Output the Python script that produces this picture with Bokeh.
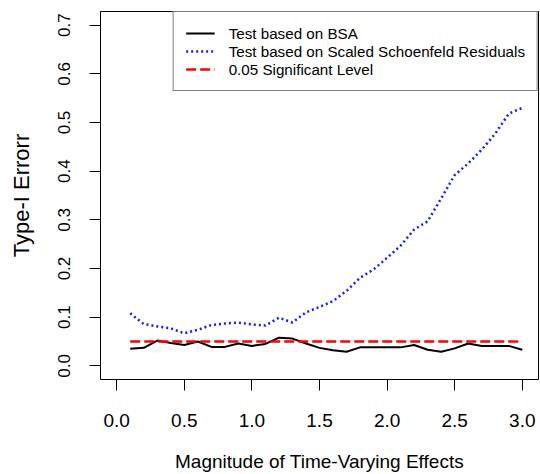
from bokeh.plotting import figure
from bokeh.models import Range1d, FixedTicker, PrintfTickFormatter, Legend, LegendItem, ColumnDataSource
from bokeh.embed import file_html
from bokeh.resources import INLINE

# ---- data ----
magnitude = [0.1, 0.2, 0.3, 0.4, 0.5, 0.6, 0.7, 0.8, 0.9, 1.0,
             1.1, 1.2, 1.3, 1.4, 1.5, 1.6, 1.7, 1.8, 1.9, 2.0,
             2.1, 2.2, 2.3, 2.4, 2.5, 2.6, 2.7, 2.8, 2.9, 3.0]
bsa = [0.035, 0.037, 0.052, 0.047, 0.043, 0.050, 0.039, 0.039, 0.046, 0.041,
       0.045, 0.058, 0.056, 0.046, 0.037, 0.032, 0.029, 0.038, 0.038, 0.038,
       0.038, 0.043, 0.033, 0.029, 0.036, 0.046, 0.041, 0.041, 0.041, 0.033]
schoenfeld = [0.108, 0.086, 0.081, 0.077, 0.067, 0.074, 0.084, 0.087, 0.089, 0.085,
              0.083, 0.099, 0.089, 0.110, 0.121, 0.133, 0.154, 0.181, 0.198, 0.222,
              0.247, 0.280, 0.297, 0.344, 0.392, 0.416, 0.444, 0.477, 0.518, 0.530]
sig_level = [0.05] * len(magnitude)

x_ticks = [0.0, 0.5, 1.0, 1.5, 2.0, 2.5, 3.0]
y_ticks = [0.0, 0.1, 0.2, 0.3, 0.4, 0.5, 0.6, 0.7]

legend_labels = ["Test based on BSA",
                 "Test based on Scaled Schoenfeld Residuals",
                 "0.05 Significant Level"]

FONT = "Liberation Sans"

src = ColumnDataSource(dict(x=magnitude, bsa=bsa, sch=schoenfeld, sig=sig_level))

p = figure(width=540, height=474, output_backend="svg", toolbar_location=None,
           x_range=Range1d(-0.12, 3.12), y_range=Range1d(-0.028, 0.728),
           min_border_left=100, min_border_right=2, min_border_top=11, min_border_bottom=93)

p.background_fill_color = "white"
p.border_fill_color = "white"
p.outline_line_color = "black"
p.outline_line_width = 1
p.xgrid.visible = False
p.ygrid.visible = False

r_bsa = p.line("x", "bsa", source=src, line_color="black", line_width=2)
r_sch = p.line("x", "sch", source=src, line_color="#1a1aff", line_width=2.5, line_dash="2 3")
r_sig = p.line("x", "sig", source=src, line_color="#ff0000", line_width=2.5, line_dash="10 4")

# axes
for ax in (p.xaxis[0], p.yaxis[0]):
    ax.axis_line_color = None
    ax.major_tick_line_color = "black"
    ax.major_tick_line_width = 1
    ax.major_tick_out = 11
    ax.major_tick_in = 0
    ax.minor_tick_line_color = None
    ax.major_label_text_font = FONT
    ax.major_label_text_color = "black"
    ax.major_label_text_line_height = 1.0
    ax.axis_label_text_font = FONT
    ax.axis_label_text_font_style = "normal"
    ax.axis_label_text_color = "black"
    ax.axis_label_text_line_height = 1.0
    ax.formatter = PrintfTickFormatter(format="%.1f")

p.xaxis.ticker = FixedTicker(ticks=x_ticks)
p.yaxis.ticker = FixedTicker(ticks=y_ticks)

p.xaxis.axis_label = "Magnitude of Time-Varying Effects"
p.xaxis.major_label_text_font_size = "19px"
p.xaxis.axis_label_text_font_size = "19px"
p.xaxis.major_label_standoff = 23
p.xaxis.axis_label_standoff = 21

p.yaxis.axis_label = "Type-I Errorr"
p.yaxis.major_label_orientation = "vertical"
p.yaxis.major_label_text_font_size = "17px"
p.yaxis.axis_label_text_font_size = "22px"
p.yaxis.major_label_standoff = 19
p.yaxis.axis_label_standoff = 22

legend = Legend(items=[LegendItem(label=legend_labels[0], renderers=[r_bsa]),
                       LegendItem(label=legend_labels[1], renderers=[r_sch]),
                       LegendItem(label=legend_labels[2], renderers=[r_sig])],
                location="top_right")
legend.margin = 0
legend.padding = 12
legend.spacing = 0
legend.glyph_width = 29
legend.glyph_height = 18
legend.label_height = 18
legend.label_standoff = 14
legend.label_text_font = FONT
legend.label_text_font_size = "15.2px"
legend.label_text_color = "black"
legend.border_line_color = "black"
legend.border_line_width = 1
legend.background_fill_alpha = 1.0
p.add_layout(legend)

open("out.html", "w").write(file_html(p, INLINE))
